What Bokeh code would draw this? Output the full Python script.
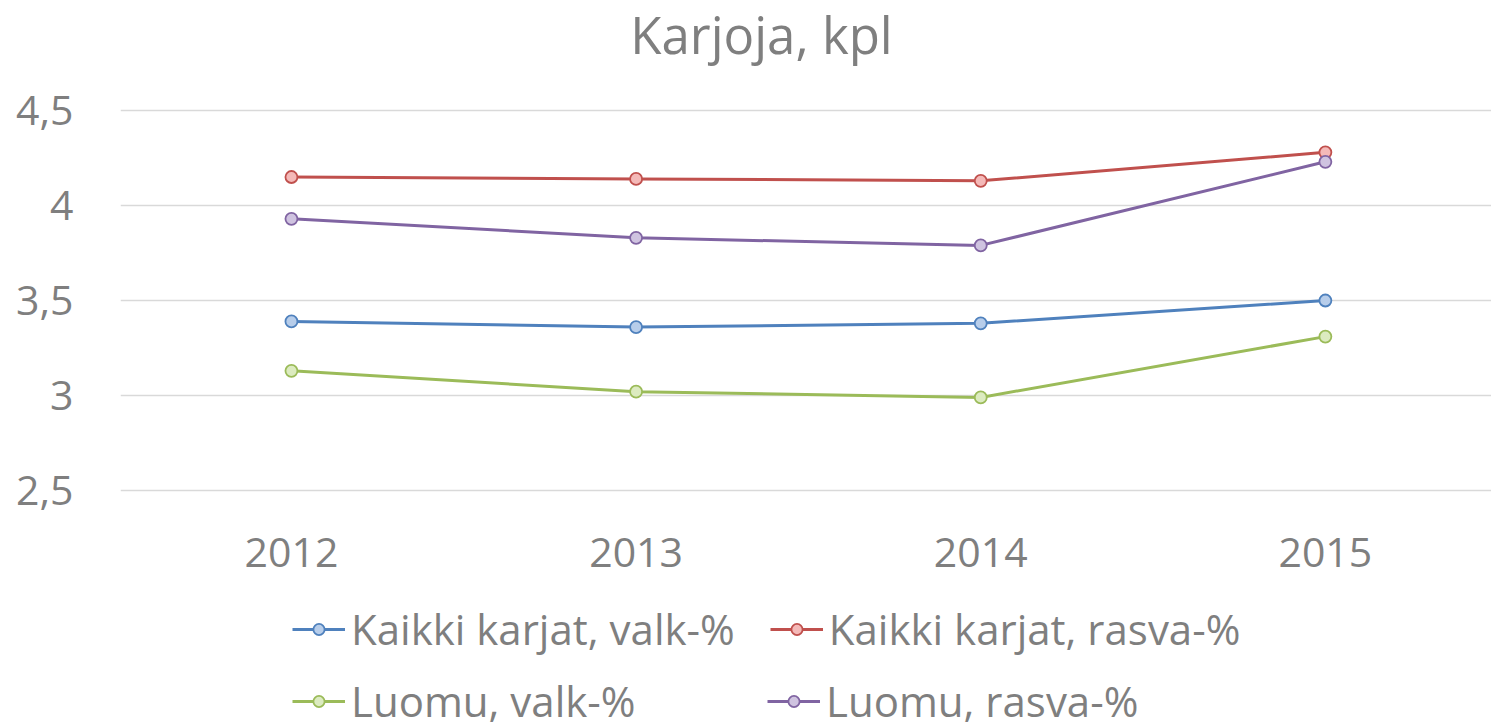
from bokeh.plotting import figure
from bokeh.layouts import column
from bokeh.models import (Legend, LegendItem, FixedTicker, CustomJSTickFormatter, Label, Range1d)
from bokeh.embed import file_html
from bokeh.resources import INLINE

years = ["2012", "2013", "2014", "2015"]
kaikki_valk = [3.39, 3.36, 3.38, 3.50]
kaikki_rasva = [4.15, 4.14, 4.13, 4.28]
luomu_valk = [3.13, 3.02, 2.99, 3.31]
luomu_rasva = [3.93, 3.83, 3.79, 4.23]
y_ticks = [2.5, 3.0, 3.5, 4.0, 4.5]

names = ["Kaikki karjat, valk-%", "Kaikki karjat, rasva-%", "Luomu, valk-%", "Luomu, rasva-%"]
series = [kaikki_valk, kaikki_rasva, luomu_valk, luomu_rasva]
line_colors = ["#4F81BD", "#C0504D", "#9BBB59", "#8064A2"]
fill_colors = ["#B7CDEA", "#F4B9B8", "#DCEBC0", "#CFC3E0"]

FONT = "Open Sans"
GREY = "#7F7F7F"

xs = list(range(len(years)))

# ---------------- main chart ----------------
p = figure(width=1491, height=600, output_backend="svg", toolbar_location=None,
           x_range=Range1d(-0.496, 3.482), y_range=Range1d(2.4, 5.079),
           min_border_left=120, min_border_right=0, min_border_top=0, min_border_bottom=91)
p.outline_line_color = None
p.background_fill_color = "white"
p.border_fill_color = "white"

p.xgrid.grid_line_color = None
p.ygrid.grid_line_color = "#D9D9D9"
p.ygrid.grid_line_width = 1.5
p.yaxis.ticker = FixedTicker(ticks=y_ticks)
p.yaxis.formatter = CustomJSTickFormatter(code="return tick.toString().replace('.', ',');")
p.xaxis.ticker = FixedTicker(ticks=xs)
p.xaxis.major_label_overrides = {i: y for i, y in enumerate(years)}

for ax in (p.xaxis[0], p.yaxis[0]):
    ax.axis_line_color = None
    ax.major_tick_line_color = None
    ax.minor_tick_line_color = None
    ax.major_tick_in = 0
    ax.major_tick_out = 0
    ax.major_label_text_font = FONT
    ax.major_label_text_font_size = "41px"
    ax.major_label_text_color = GREY
p.yaxis.major_label_standoff = 47
p.xaxis.major_label_standoff = 28

for vals, lc, fc in zip(series, line_colors, fill_colors):
    p.line(xs, vals, line_color=lc, line_width=3)
    p.scatter(xs, vals, size=12, marker="circle", fill_color=fc, line_color=lc, line_width=1.8)

title = Label(text="Karjoja, kpl", x=641, y=476, x_units="screen", y_units="screen",
              text_align="center", text_baseline="middle", text_font=FONT,
              text_font_size="51px", text_color=GREY)
p.add_layout(title)

# ---------------- legend strip ----------------
# same series drawn again but kept outside the visible x-range; only the legend shows
lg = figure(width=1491, height=128, output_backend="svg", toolbar_location=None,
            x_range=Range1d(10, 11), y_range=Range1d(2.4, 5.079),
            x_axis_type=None, y_axis_type=None,
            min_border_left=0, min_border_right=0, min_border_top=0, min_border_bottom=0)
lg.outline_line_color = None
lg.xgrid.visible = False
lg.ygrid.visible = False

legend_renderers = []
for vals, lc, fc in zip(series, line_colors, fill_colors):
    r1 = lg.line(xs, vals, line_color=lc, line_width=3)
    r2 = lg.scatter(xs, vals, size=12, marker="circle", fill_color=fc, line_color=lc, line_width=1.8)
    legend_renderers.append([r1, r2])

def make_legend(idx, loc):
    items = [LegendItem(label=names[i], renderers=legend_renderers[i]) for i in idx]
    return Legend(items=items, location=loc, orientation="horizontal",
                  nrows=1, ncols=2,
                  glyph_width=53, glyph_height=28, label_standoff=6, spacing=35,
                  label_width=381, label_height=40,
                  padding=0, margin=0, border_line_color=None, background_fill_alpha=0,
                  label_text_font=FONT, label_text_font_size="42px", label_text_color=GREY)

lg.add_layout(make_legend([0, 1], (172, 71)))
lg.add_layout(make_legend([2, 3], (172, -1)))

layout = column(p, lg, spacing=0)
open("out.html", "w").write(file_html(layout, INLINE))
